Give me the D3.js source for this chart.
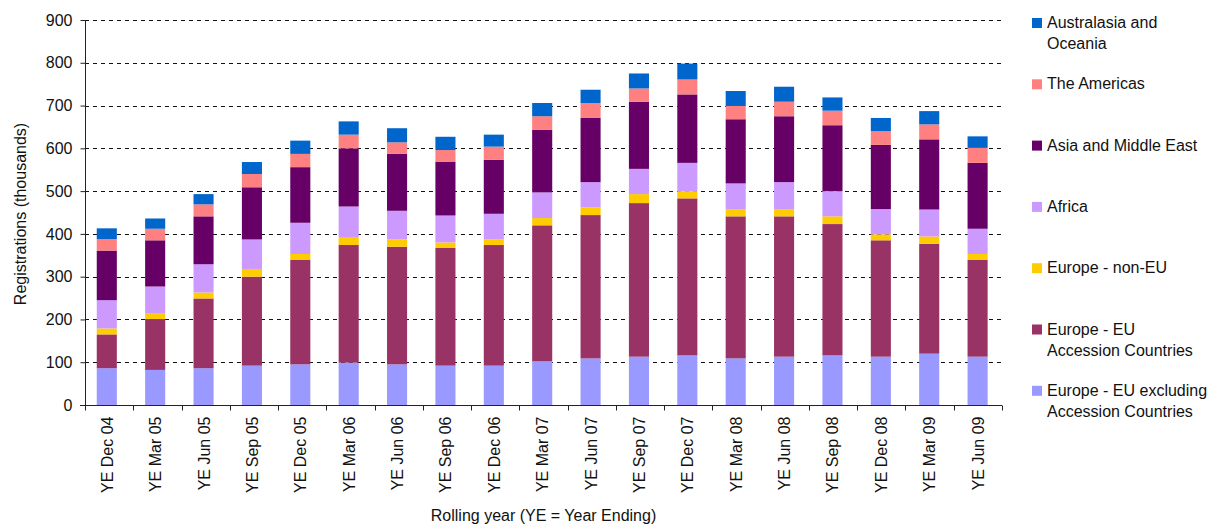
<!DOCTYPE html>
<html lang="en">
    <head>
        <meta charset="utf-8">
        <title>Registrations by region</title>
        <script src="https://d3js.org/d3.v7.min.js"></script>
        <style type="text/css">
            body {
                margin: 0;
                background: white;
            }
            .axis path,
            .axis line {
                stroke: #222;
                stroke-width: 1px;
            }
            .axis text {
                font-family: "Liberation Sans", Arial, sans-serif;
                font-size: 16px;
                fill: #111;
            }
            .grid line {
                stroke: #111;
                stroke-dasharray: 4,4;
            }
            .label, .legend text {
                font-family: "Liberation Sans", Arial, sans-serif;
                font-size: 16px;
                fill: #111;
            }
        </style>
    </head>
    <body>
        <script type="text/javascript">

            const w = 1210;
            const h = 526;
            const margin = {top: 20, right: 208, bottom: 121, left: 85};

            // data
            const periods = ["YE Dec 04", "YE Mar 05", "YE Jun 05", "YE Sep 05", "YE Dec 05", "YE Mar 06",
                             "YE Jun 06", "YE Sep 06", "YE Dec 06", "YE Mar 07", "YE Jun 07", "YE Sep 07",
                             "YE Dec 07", "YE Mar 08", "YE Jun 08", "YE Sep 08", "YE Dec 08", "YE Mar 09", "YE Jun 09"];

            const euExcl     = [86, 82, 86, 92, 95, 99, 95, 92, 92, 102, 109, 113, 116, 109, 113, 116, 113, 120, 113];
            const euAccess   = [79, 119, 163, 208, 244, 275, 275, 275, 282, 318, 335, 359, 367, 332, 328, 307, 272, 257, 226];
            const europeNon  = [14, 14, 14, 18, 14, 17, 17, 13, 13, 17, 18, 21, 17, 17, 17, 18, 14, 17, 14];
            const africa     = [66, 62, 66, 69, 73, 73, 67, 63, 60, 60, 59, 59, 66, 60, 63, 59, 59, 63, 59];
            const asia       = [116, 108, 112, 122, 130, 136, 133, 126, 126, 146, 150, 157, 160, 150, 154, 154, 150, 164, 154];
            const americas   = [27, 27, 28, 31, 31, 32, 27, 27, 31, 32, 35, 31, 35, 31, 34, 34, 32, 35, 35];
            const australasia = [25, 24, 24, 28, 31, 31, 33, 31, 28, 31, 31, 35, 37, 35, 35, 31, 31, 31, 27];

            const seriesNames = ["Europe - EU excluding Accession Countries", "Europe - EU Accession Countries",
                                 "Europe - non-EU", "Africa", "Asia and Middle East", "The Americas",
                                 "Australasia and Oceania"];
            const seriesValues = [euExcl, euAccess, europeNon, africa, asia, americas, australasia];
            const colors = ["#9999FF", "#993366", "#FFCC00", "#CC99FF", "#660066", "#FF8080", "#0066CC"];
            const legendLines = [["Europe - EU excluding", "Accession Countries"], ["Europe - EU", "Accession Countries"],
                                 ["Europe - non-EU"], ["Africa"], ["Asia and Middle East"], ["The Americas"],
                                 ["Australasia and", "Oceania"]];
            const yTicks = [0, 100, 200, 300, 400, 500, 600, 700, 800, 900];

            const table = periods.map((p, i) => {
                const row = {period: p};
                seriesNames.forEach((s, j) => { row[s] = seriesValues[j][i]; });
                return row;
            });
            const stacked = d3.stack().keys(seriesNames)(table);

            //scales
            const xScale = d3.scaleBand()
                             .domain(periods)
                             .range([margin.left, w - margin.right])
                             .paddingInner(0.585)
                             .paddingOuter(0.27)
                             .align(0.45);

            const yScale = d3.scaleLinear()
                             .domain([0, 900])
                             .range([h - margin.bottom, margin.top]);

            const svg = d3.select("body")
                    .append("svg")
                    .attr("width", w)
                    .attr("height", h);

            //gridlines
            svg.append("g")
               .attr("class", "grid")
               .selectAll("line")
               .data(yTicks.filter(d => d > 0))
               .join("line")
               .attr("x1", margin.left)
               .attr("x2", w - margin.right)
               .attr("y1", d => Math.round(yScale(d)) + 0.5)
               .attr("y2", d => Math.round(yScale(d)) + 0.5);

            //bars
            svg.append("g")
               .selectAll("g")
               .data(stacked)
               .join("g")
               .attr("fill", (d, i) => colors[i])
               .selectAll("rect")
               .data(d => d)
               .join("rect")
               .attr("x", d => xScale(d.data.period))
               .attr("width", xScale.bandwidth())
               .attr("y", d => yScale(d[1]))
               .attr("height", d => yScale(d[0]) - yScale(d[1]));

            //left axis
            const leftAxis = d3.axisLeft(yScale)
                               .tickValues(yTicks)
                               .tickSize(5)
                               .tickPadding(8);
            svg.append("g")
               .attr("class", "axis")
               .attr("transform", "translate(" + (margin.left + 0.5) + ",0)")
               .call(leftAxis)
               .call(g => g.select(".domain").attr("d", "M0," + yScale(900) + "V" + (h - margin.bottom)));

            //bottom axis: ticks on category boundaries
            const bottom = svg.append("g")
               .attr("class", "axis")
               .attr("transform", "translate(0," + (h - margin.bottom + 0.5) + ")");
            bottom.append("path")
                  .attr("d", "M" + (margin.left - 5) + ",0H" + (w - margin.right));
            const step = (w - margin.right - margin.left) / periods.length;
            bottom.selectAll("line")
                  .data(d3.range(periods.length + 1))
                  .join("line")
                  .attr("x1", i => Math.round(margin.left + i * step) + 0.5)
                  .attr("x2", i => Math.round(margin.left + i * step) + 0.5)
                  .attr("y1", 0)
                  .attr("y2", 5);
            bottom.selectAll("text")
                  .data(periods)
                  .join("text")
                  .attr("transform", d => "translate(" + (xScale(d) + xScale.bandwidth() / 2 + 6) + ",11) rotate(-90)")
                  .attr("text-anchor", "end")
                  .text(d => d);

            //axis titles
            svg.append("text")
               .attr("class", "label")
               .attr("x", (margin.left + w - margin.right) / 2)
               .attr("y", 521)
               .attr("text-anchor", "middle")
               .text("Rolling year (YE = Year Ending)");

            svg.append("text")
               .attr("class", "label")
               .attr("transform", "translate(26,214) rotate(-90)")
               .attr("text-anchor", "middle")
               .text("Registrations (thousands)");

            //legend, top item is the top of the stack
            const legend = svg.append("g")
                              .attr("class", "legend")
                              .attr("transform", "translate(1032,0)");
            const order = d3.range(seriesNames.length).reverse();
            const items = legend.selectAll("g")
                                .data(order)
                                .join("g")
                                .attr("transform", (d, k) => "translate(0," + (23 + k * 61.3) + ")");
            items.append("rect")
                 .attr("x", 0)
                 .attr("y", -5)
                 .attr("width", 10)
                 .attr("height", 10)
                 .attr("fill", d => colors[d]);
            items.append("text")
                 .selectAll("tspan")
                 .data(d => legendLines[d])
                 .join("tspan")
                 .attr("x", 15)
                 .attr("y", (d, i) => 5 + i * 21)
                 .text(d => d);

        </script>
    </body>
</html>
